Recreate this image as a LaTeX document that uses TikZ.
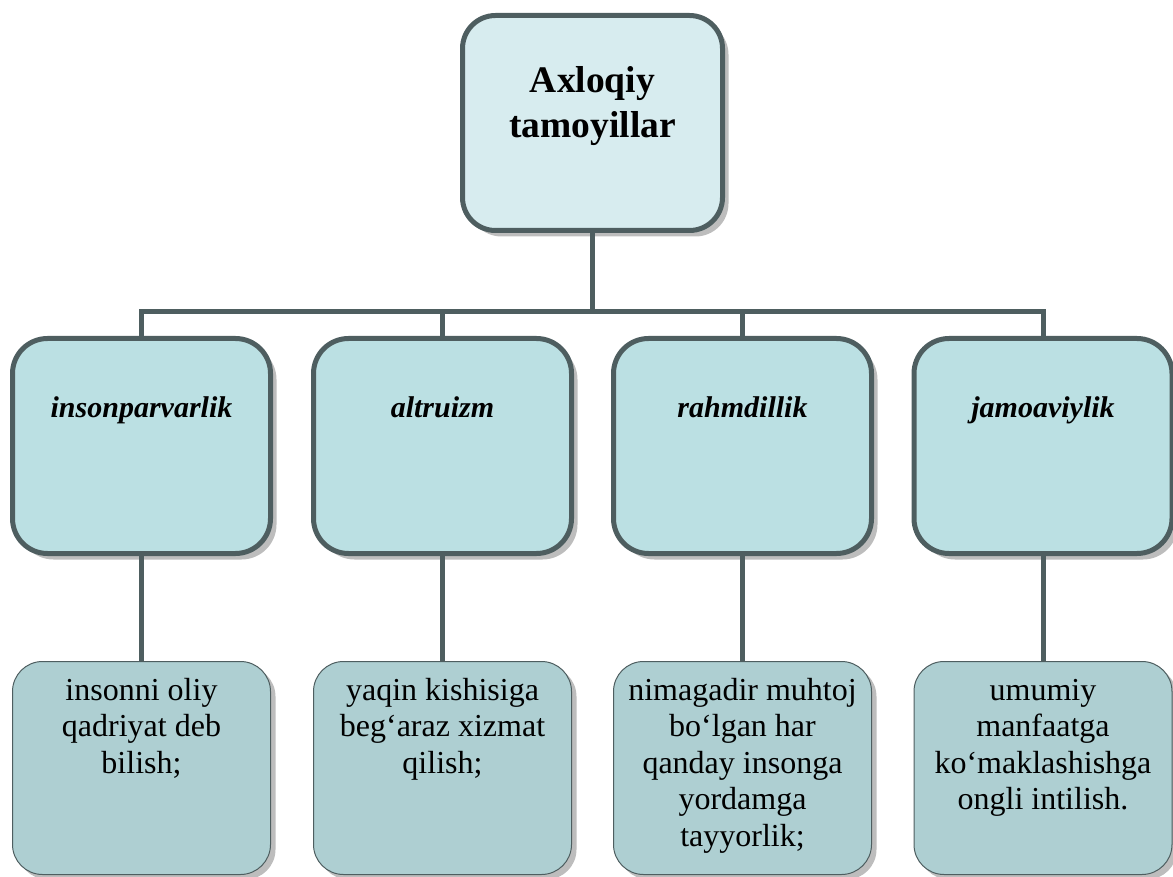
\documentclass[tikz,border=0pt]{standalone}
\usepackage{fontspec}
\setmainfont{Liberation Serif}
\usetikzlibrary{shadows}
\definecolor{edge}{HTML}{4E5E60}
\definecolor{topfill}{HTML}{D7ECEF}
\definecolor{midfill}{HTML}{BBE0E3}
\definecolor{botfill}{HTML}{AECFD2}
\definecolor{shade}{HTML}{BDBDBD}
\begin{document}
\begin{tikzpicture}[x=1pt,y=-1pt,
  topbox/.style={draw=edge, line width=5pt, fill=topfill, rounded corners=33pt,
    minimum width=260pt, minimum height=215pt, inner sep=0pt,
    drop shadow={shadow xshift=6pt, shadow yshift=-6pt, fill=shade, opacity=1}},
  midbox/.style={draw=edge, line width=5pt, fill=midfill, rounded corners=35pt,
    minimum width=258pt, minimum height=215pt, inner sep=0pt,
    drop shadow={shadow xshift=6pt, shadow yshift=-6pt, fill=shade, opacity=1}},
  botbox/.style={draw=edge, line width=1pt, fill=botfill, rounded corners=30pt,
    minimum width=258pt, minimum height=213pt, inner sep=0pt,
    drop shadow={shadow xshift=5pt, shadow yshift=-5pt, fill=shade, opacity=1}},
  titletext/.style={font=\fontsize{37.5}{45}\selectfont\bfseries, align=center, inner sep=0pt, anchor=north},
  midtext/.style={font=\fontsize{30}{36}\selectfont\bfseries\itshape, inner sep=0pt, anchor=base},
  bottext/.style={font=\fontsize{32}{36.5}\selectfont, align=center, inner sep=0pt, anchor=north},
  conn/.style={draw=edge, line width=5pt}
]
\useasboundingbox (0,0) rectangle (1173,877);

\node[topbox] (top) at (592.5,123) {};
\node[titletext] (toptxt) at ([yshift=-47.5pt]top.north) {\strut Axloqiy\\tamoyillar};

\node[midbox] (m1) at (141.5,446) {};
\node[midbox] (m2) at (442.5,446) {};
\node[midbox] (m3) at (742.5,446) {};
\node[midbox] (m4) at (1043,446) {};
\node[midtext] (t1) at ([yshift=-81pt]m1.north) {insonparvarlik};
\node[midtext] (t2) at ([yshift=-81pt]m2.north) {altruizm};
\node[midtext] (t3) at ([yshift=-81pt]m3.north) {rahmdillik};
\node[midtext] (t4) at ([yshift=-81pt]m4.north) {jamoaviylik};

\node[botbox] (b1) at (141.5,768) {};
\node[botbox] (b2) at (442.5,768) {};
\node[botbox] (b3) at (742.5,768) {};
\node[botbox] (b4) at (1043,768) {};
\node[bottext] (u1) at ([yshift=-13.5pt]b1.north) {\strut insonni oliy\\qadriyat deb\\bilish;};
\node[bottext] (u2) at ([yshift=-13.5pt]b2.north) {\strut yaqin kishisiga\\beg‘araz xizmat\\qilish;};
\node[bottext] (u3) at ([yshift=-13.5pt]b3.north) {\strut nimagadir muhtoj\\bo‘lgan har\\qanday insonga\\yordamga\\tayyorlik;};
\node[bottext] (u4) at ([yshift=-13.5pt]b4.north) {\strut umumiy\\manfaatga\\ko‘maklashishga\\ongli intilish.};

\coordinate (bar) at (592.5,312);
\draw[conn] (top.south) -- (top.south |- bar) -| (m1.north);
\draw[conn] (top.south |- bar) -| (m2.north);
\draw[conn] (top.south |- bar) -| (m3.north);
\draw[conn] (top.south |- bar) -| (m4.north);
\draw[conn] (m1.south) -- (b1.north);
\draw[conn] (m2.south) -- (b2.north);
\draw[conn] (m3.south) -- (b3.north);
\draw[conn] (m4.south) -- (b4.north);
\end{tikzpicture}
\end{document}
